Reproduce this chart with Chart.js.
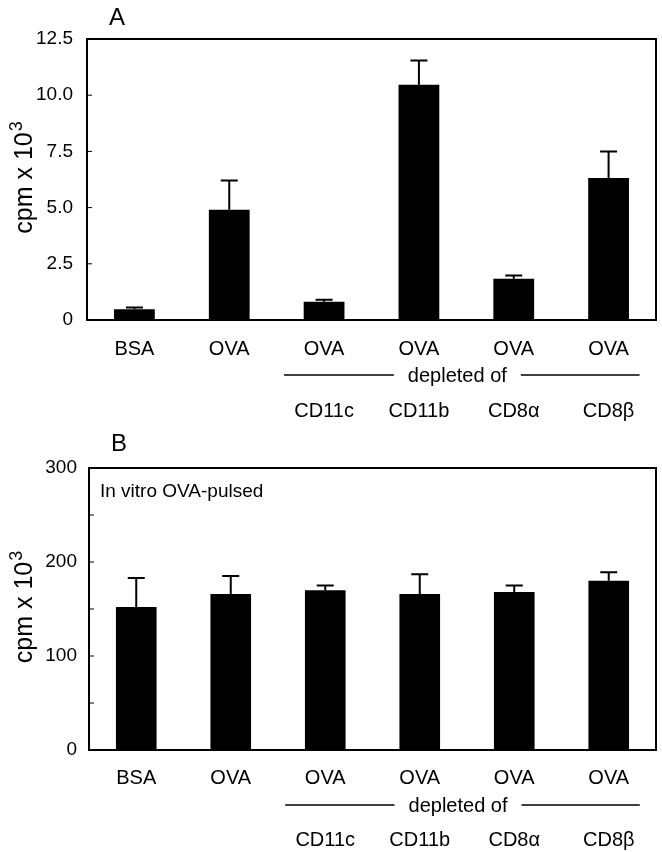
<!DOCTYPE html>
<html>
<head>
<meta charset="utf-8">
<script src="https://cdn.jsdelivr.net/npm/chart.js@4"></script>
<style>
  html, body { margin: 0; padding: 0; background: #fff; }
  .panel { position: absolute; left: 0; width: 662px; }
  #panelA { top: 0; height: 430px; }
  #panelB { top: 420px; height: 432px; }
</style>
</head>
<body>
<div class="panel" id="panelA"><canvas id="chartA"></canvas></div>
<div class="panel" id="panelB"><canvas id="chartB"></canvas></div>
<script>
// x labels: antigen on top row, depleted population on bottom row
var antigen = ['BSA', 'OVA', 'OVA', 'OVA', 'OVA', 'OVA'];
var depleted = ['', '', 'CD11c', 'CD11b', 'CD8\u03b1', 'CD8\u03b2'];

// panel A (cpm x 10^3), mean and upper error
var meanA = [0.48, 4.9, 0.81, 10.47, 1.84, 6.32];
var sdA = [0.08, 1.3, 0.09, 1.07, 0.14, 1.17];

// panel B, in vitro OVA-pulsed
var meanB = [152, 166, 170, 166, 168, 180];
var sdB = [31, 19, 5, 21, 7, 9];

var FONT = '"Liberation Sans", Arial, Helvetica, sans-serif';
Chart.defaults.font.family = FONT;
Chart.defaults.color = '#000';

var xLabels = antigen.map(function (a, i) { return [a, '', depleted[i]]; });

// box round the plot + small inward tick marks on the y axis
var frame = {
    id: 'frame',
    afterDraw: function (chart) {
        var ctx = chart.ctx, a = chart.chartArea, y = chart.scales.y;
        ctx.save();
        ctx.strokeStyle = '#000';
        ctx.lineWidth = 1;
        y.ticks.forEach(function (t) {
            var py = y.getPixelForValue(t.value);
            ctx.beginPath();
            ctx.moveTo(a.left, py);
            ctx.lineTo(a.left + 5, py);
            ctx.stroke();
        });
        ctx.lineWidth = 2;
        ctx.strokeRect(a.left, a.top, a.right - a.left, a.bottom - a.top);
        ctx.restore();
    }
};

// upper error bars only
var errorBars = {
    id: 'errorBars',
    afterDatasetsDraw: function (chart, args, opts) {
        var ctx = chart.ctx, y = chart.scales.y;
        var means = chart.data.datasets[0].data;
        var meta = chart.getDatasetMeta(0);
        ctx.save();
        ctx.strokeStyle = '#000';
        ctx.lineWidth = 2;
        meta.data.forEach(function (bar, i) {
            var top = y.getPixelForValue(means[i] + opts.errors[i]);
            ctx.beginPath();
            ctx.moveTo(bar.x, bar.y);
            ctx.lineTo(bar.x, top);
            ctx.moveTo(bar.x - 8.5, top);
            ctx.lineTo(bar.x + 8.5, top);
            ctx.stroke();
        });
        ctx.restore();
    }
};

// panel letter, y title with superscript, inner note, "depleted of" bracket
var notes = {
    id: 'notes',
    afterDraw: function (chart, args, opts) {
        var ctx = chart.ctx, a = chart.chartArea, x = chart.scales.x;
        ctx.save();
        ctx.fillStyle = '#000';
        ctx.strokeStyle = '#000';
        ctx.textBaseline = 'middle';
        ctx.textAlign = 'left';
        ctx.font = '24px ' + FONT;
        ctx.fillText(opts.letter, a.left + 22, opts.letterY);
        if (opts.note) {
            ctx.font = '19px ' + FONT;
            ctx.fillText(opts.note, a.left + 11, a.top + 24);
        }

        // y axis title: cpm x 10^3, rotated
        ctx.save();
        ctx.translate(32, (a.top + a.bottom) / 2 - 2);
        ctx.rotate(-Math.PI / 2);
        ctx.textBaseline = 'alphabetic';
        ctx.font = '25px ' + FONT;
        var base = 'cpm x 10';
        var wb = ctx.measureText(base).width;
        ctx.font = '18px ' + FONT;
        var ws = ctx.measureText('3').width;
        var x0 = -(wb + ws + 1) / 2;
        ctx.font = '25px ' + FONT;
        ctx.fillText(base, x0, 0);
        ctx.font = '18px ' + FONT;
        ctx.fillText('3', x0 + wb + 1, -10);
        ctx.restore();

        var p2 = x.getPixelForValue(2), p5 = x.getPixelForValue(5);
        var cx = (p2 + p5) / 2 - 9;
        var ty = a.bottom + opts.depY;
        ctx.font = '20px ' + FONT;
        ctx.textAlign = 'center';
        var txt = 'depleted of';
        var w = ctx.measureText(txt).width;
        ctx.fillText(txt, cx, ty);
        ctx.lineWidth = 1.5;
        ctx.beginPath();
        ctx.moveTo(p2 - 40, ty - 1);
        ctx.lineTo(cx - w / 2 - 14, ty - 1);
        ctx.moveTo(cx + w / 2 + 14, ty - 1);
        ctx.lineTo(p5 + 31, ty - 1);
        ctx.stroke();
        ctx.restore();
    }
};

function makeChart(id, means, errors, yMax, step, fmt, cfg) {
    return new Chart(document.getElementById(id), {
        type: 'bar',
        data: {
            labels: xLabels,
            datasets: [{
                data: means,
                backgroundColor: '#000',
                borderWidth: 0,
                barPercentage: 0.43,
                categoryPercentage: 1
            }]
        },
        options: {
            responsive: true,
            maintainAspectRatio: false,
            animation: false,
            layout: {
                padding: { top: cfg.top, right: 6, left: 0, bottom: 0 }
            },
            plugins: {
                legend: { display: false },
                tooltip: { enabled: false },
                errorBars: { errors: errors },
                notes: { letter: cfg.letter, letterY: cfg.letterY, note: cfg.note, depY: 56 }
            },
            scales: {
                x: {
                    grid: { display: false, drawTicks: false },
                    border: { display: false },
                    ticks: {
                        autoSkip: false,
                        maxRotation: 0,
                        padding: cfg.xPad,
                        font: { size: 20, lineHeight: 1.55 }
                    },
                    afterFit: function (s) { s.height = cfg.xHeight; }
                },
                y: {
                    min: 0,
                    max: yMax,
                    grid: { display: false, drawTicks: false },
                    border: { display: false },
                    ticks: {
                        stepSize: step,
                        autoSkip: false,
                        padding: cfg.yPad,
                        font: { size: 19 },
                        callback: fmt
                    },
                    afterFit: function (s) { s.width = cfg.yWidth; }
                }
            }
        },
        plugins: [frame, errorBars, notes]
    });
}

makeChart('chartA', meanA, sdA, 12.5, 2.5,
    function (v) { return v === 0 ? '0' : v.toFixed(1); },
    { top: 39, xHeight: 110, yWidth: 87, xPad: 14, yPad: 14, letter: 'A', letterY: 18, note: '' });

makeChart('chartB', meanB, sdB, 300, 50,
    function (v) { return v % 100 === 0 ? String(v) : ''; },
    { top: 48, xHeight: 102, yWidth: 89, xPad: 13, yPad: 12, letter: 'B', letterY: 24, note: 'In vitro OVA-pulsed' });
</script>
</body>
</html>
